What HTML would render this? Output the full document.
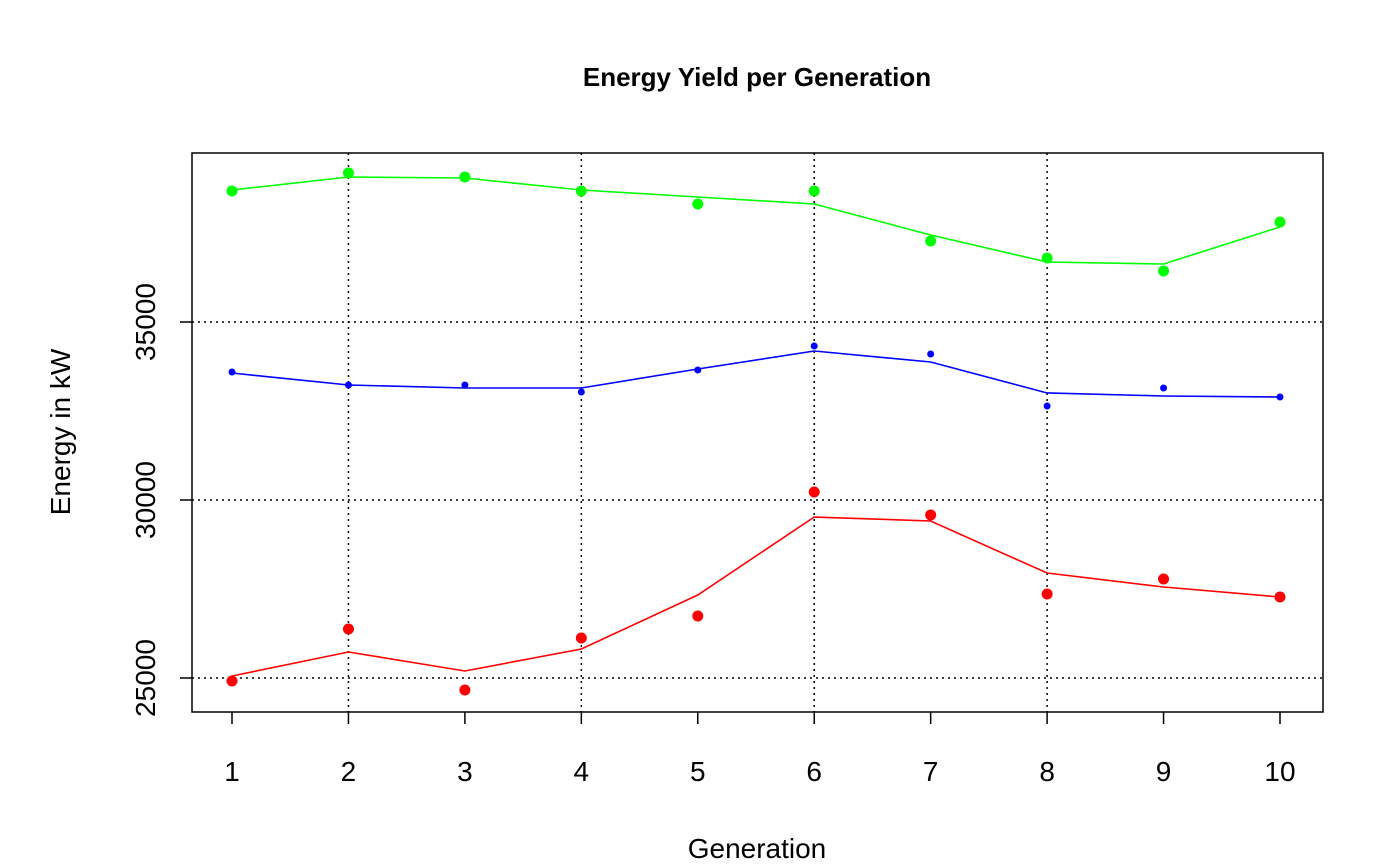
<!DOCTYPE html>
<html><head><meta charset="utf-8"><style>
html,body{margin:0;padding:0;background:#fff;}
svg{display:block;font-family:"Liberation Sans",Arial,sans-serif;}
</style></head><body>
<svg id="chart" width="1400" height="866">
<text x="757" y="86" text-anchor="middle" font-size="26" font-weight="bold">Energy Yield per Generation</text>
<text x="757" y="858" text-anchor="middle" font-size="28">Generation</text>
<text transform="translate(70,432) rotate(-90)" text-anchor="middle" font-size="28">Energy in kW</text>
<g id="grid"></g><g id="axes"></g><g id="series"></g>
<rect x="192" y="153" width="1131" height="559" fill="none" stroke="#000" stroke-width="1.5"/>
</svg>
<script>
const generations=[1,2,3,4,5,6,7,8,9,10];
const yTicks=[25000,30000,35000];
const greenPoints=[38680,39185,39073,38680,38315,38680,37275,36798,36433,37809];
const greenLine=[38708,39073,39045,38708,38511,38315,37444,36685,36629,37669];
const bluePoints=[33596,33230,33230,33034,33652,34326,34101,32640,33146,32893];
const blueLine=[33567,33230,33146,33146,33680,34185,33876,33006,32921,32893];
const redPoints=[24916,26376,24663,26124,26742,30225,29579,27360,27781,27275];
const redLine=[25056,25730,25197,25815,27331,29522,29410,27949,27556,27275];
const NS="http://www.w3.org/2000/svg";
const xs=g=>232+(g-1)*(1280-232)/9;
const ys=v=>678-(v-25000)*0.0356;
function mk(tag,attrs,parent){const e=document.createElementNS(NS,tag);for(const k in attrs)e.setAttribute(k,attrs[k]);parent.appendChild(e);return e;}
const grid=document.getElementById('grid'),axes=document.getElementById('axes'),series=document.getElementById('series');
[2,4,6,8].forEach(g=>{const l=mk('line',{x1:xs(g),x2:xs(g),y1:153,y2:712,stroke:'#000','stroke-width':1.5,'stroke-dasharray':'2,4'},grid);

});
yTicks.forEach(v=>{const l=mk('line',{x1:192,x2:1323,y1:ys(v),y2:ys(v),stroke:'#000','stroke-width':1.5,'stroke-dasharray':'2,4'},grid);


const t=mk('line',{x1:180,x2:192,y1:ys(v),y2:ys(v),stroke:'#000','stroke-width':1.5},axes);


const tx=mk('text',{transform:`translate(155,${ys(v)}) rotate(-90)`,'text-anchor':'middle','font-size':28},axes);tx.textContent=v;

});
generations.forEach(g=>{const t=mk('line',{x1:xs(g),x2:xs(g),y1:712,y2:724,stroke:'#000','stroke-width':1.5},axes);


const tx=mk('text',{x:xs(g),y:781,'text-anchor':'middle','font-size':28},axes);tx.textContent=g;

});
function draw(line,pts,color,r,name){
const p=mk('polyline',{points:line.map((v,i)=>xs(generations[i])+','+ys(v)).join(' '),fill:'none',stroke:color,'stroke-width':1.6},series);


pts.forEach((v,i)=>{const c=mk('circle',{cx:xs(generations[i]),cy:ys(v),r:r,fill:color},series);

});}
draw(greenLine,greenPoints,'#00ff00',5.5,'green');
draw(blueLine,bluePoints,'#0000ff',3.5,'blue');
draw(redLine,redPoints,'#ff0000',5.5,'red');
</script>
</body></html>
